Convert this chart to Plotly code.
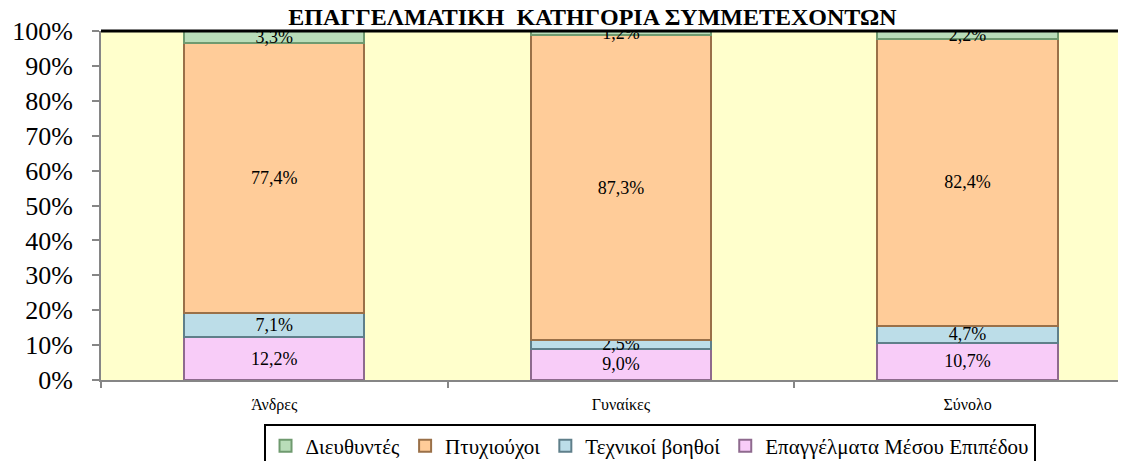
import plotly.graph_objects as go

# Data
categories = ['Άνδρες', 'Γυναίκες', 'Σύνολο']
series_names = ['Επαγγέλματα Μέσου Επιπέδου', 'Τεχνικοί βοηθοί', 'Πτυχιούχοι', 'Διευθυντές']
epaggelmata = [12.2, 9.0, 10.7]
technikoi = [7.1, 2.5, 4.7]
ptyxiouxoi = [77.4, 87.3, 82.4]
diefthyntes = [3.3, 1.2, 2.2]
y_ticks = [0, 10, 20, 30, 40, 50, 60, 70, 80, 90, 100]

series_values = [epaggelmata, technikoi, ptyxiouxoi, diefthyntes]
fills = ['#F8CCF8', '#BCDDE8', '#FFCC99', '#B9DDB9']
edges = ['#8E6A8E', '#5F7F8A', '#9A7048', '#6F9A6F']

FONT = 'Liberation Serif'

fig = go.Figure()
for name, vals, fill, edge in zip(series_names, series_values, fills, edges):
    fig.add_trace(go.Bar(
        x=categories,
        y=vals,
        name=name,
        marker=dict(color=fill, line=dict(color=edge, width=2)),
        text=[f"{v:.1f}%".replace('.', ',') for v in vals],
        textposition='inside',
        insidetextanchor='middle',
        constraintext='none',
        textfont=dict(family=FONT, size=18, color='black'),
        textangle=0,
    ))

fig.update_layout(
    width=1126,
    height=461,
    barmode='stack',
    bargap=0.48,
    plot_bgcolor='#FFFFCC',
    paper_bgcolor='white',
    margin=dict(l=93, r=0, t=23, b=78),
    font=dict(family=FONT, color='black'),
    title=dict(
        text='<b>ΕΠΑΓΓΕΛΜΑΤΙΚΗ  ΚΑΤΗΓΟΡΙΑ ΣΥΜΜΕΤΕΧΟΝΤΩΝ</b>',
        x=0.519, xanchor='center', xref='container',
        y=1, yanchor='top', yref='container',
        pad=dict(t=0, b=0),
        font=dict(family=FONT, size=24, color='black'),
    ),
    legend=dict(
        orientation='h',
        traceorder='reversed',
        x=0.531,
        xanchor='center',
        y=-0.125,
        yanchor='top',
        bordercolor='black',
        borderwidth=2,
        font=dict(family=FONT, size=21),
        itemwidth=30,
        tracegroupgap=0,
    ),
    showlegend=True,
)

fig.update_xaxes(
    range=[-0.5, 2.48],
    showline=True,
    linecolor='#868686',
    linewidth=2,
    ticks='outside',
    tickson='boundaries',
    ticklen=6,
    tickcolor='#868686',
    tickwidth=2,
    tickfont=dict(family=FONT, size=16),
    ticklabelstandoff=9,
    showgrid=False,
)
fig.update_yaxes(
    range=[0, 100],
    tickvals=y_ticks,
    ticktext=[f"{t}%" for t in y_ticks],
    showline=True,
    linecolor='#868686',
    linewidth=2,
    ticks='outside',
    ticklen=7,
    tickcolor='#868686',
    tickwidth=2,
    tickfont=dict(family=FONT, size=26),
    ticklabelstandoff=14,
    showgrid=False,
    zeroline=False,
)

# black top border of the plot area
fig.add_shape(type='line', xref='paper', yref='paper', x0=0, x1=1, y0=1, y1=1,
              line=dict(color='black', width=3))

fig.write_html("out.html")
